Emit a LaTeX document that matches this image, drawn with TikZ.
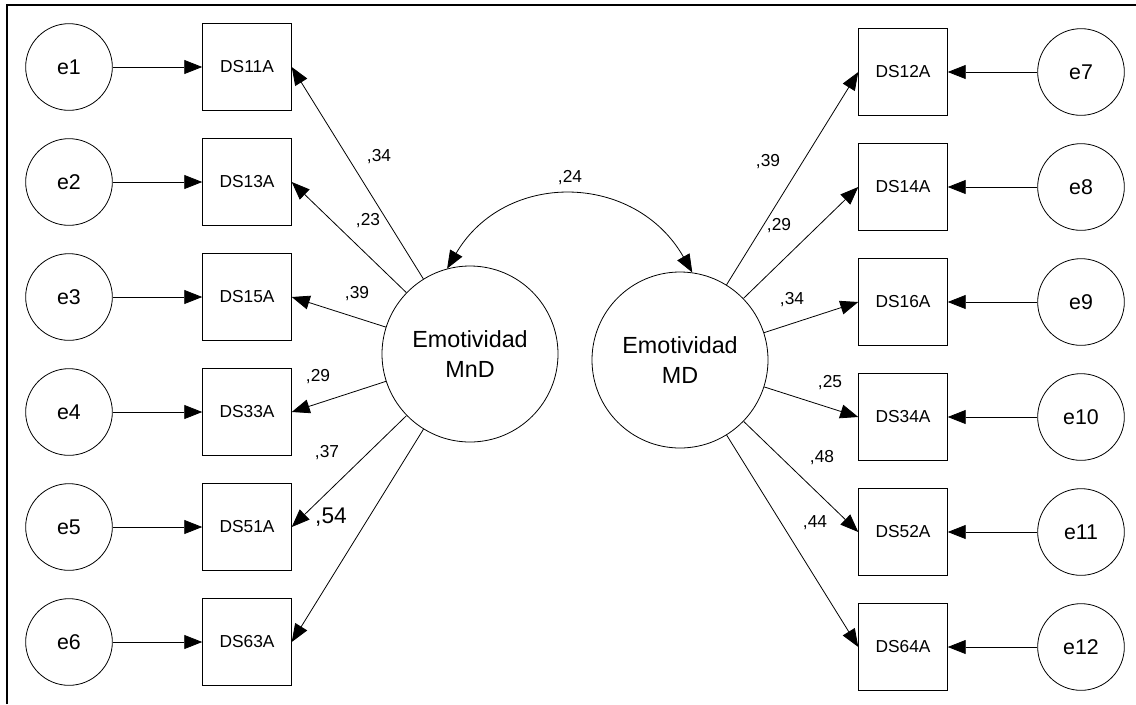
\documentclass[tikz,border=0pt]{standalone}
\usepackage{fontspec}
\setmainfont{Liberation Sans}
\usetikzlibrary{arrows.meta}
\begin{document}
\begin{tikzpicture}[x=0.75pt,y=-0.75pt,
  err/.style={circle,draw,line width=0.6pt,minimum size=65pt,inner sep=0pt,font=\fontsize{16}{18}\selectfont},
  obs/.style={rectangle,draw,line width=0.6pt,minimum width=66.5pt,minimum height=65pt,inner sep=0pt,font=\fontsize{13}{15}\selectfont},
  lat/.style={circle,draw,line width=0.6pt,minimum size=132pt,inner sep=0pt,align=center,font=\fontsize{17.5}{22.5}\selectfont},
  lbl/.style={inner sep=0pt,font=\fontsize{13}{15}\selectfont},
  conn/.style={line width=0.6pt,-{Triangle[length=13.5pt,width=10.5pt]}},
  frame/.style={line width=1.5pt}]
\useasboundingbox (0,0) rectangle (1136,704);
\coordinate (fa) at (7,704);
\coordinate (fb) at (7,5);
\coordinate (fc) at (1136,5);
\draw[frame] (fa) -- (fb) -- (fc);

% latent variables
\node[lat] (mnd) at (470,354) {Emotividad\\MnD};
\node[lat] (md) at (680,360) {Emotividad\\MD};

% left side
\foreach \i/\e/\d/\y in {1/e1/DS11A/67, 2/e2/DS13A/182, 3/e3/DS15A/297, 4/e4/DS33A/412, 5/e5/DS51A/527, 6/e6/DS63A/642}{
  \node[err] (l\i) at (69,\y) {\e};
  \node[obs] (L\i) at (247,\y) {\d};
  \draw[conn] (l\i) -- (L\i);
  \draw[conn] (mnd) -- (L\i.east);
}
% right side
\foreach \i/\e/\d/\y in {1/e7/DS12A/72, 2/e8/DS14A/187, 3/e9/DS16A/302, 4/e10/DS34A/417, 5/e11/DS52A/532, 6/e12/DS64A/647}{
  \node[err] (r\i) at (1081,\y) {\e};
  \node[obs] (R\i) at (903,\y) {\d};
  \draw[conn] (r\i) -- (R\i);
  \draw[conn] (md) -- (R\i.west);
}

% covariance
\draw[line width=0.6pt,{Triangle[length=13.5pt,width=10.5pt]}-{Triangle[length=13.5pt,width=10.5pt]}]
  (mnd.105) .. controls (505,170) and (635,172) .. (md.82);

% labels
\node[lbl] (c24) at (570,178) {,24};
\node[lbl] (a1) at (379,157) {,34};
\node[lbl] (a2) at (368,221) {,23};
\node[lbl] (a3) at (357,294) {,39};
\node[lbl] (a4) at (318,377) {,29};
\node[lbl] (a5) at (327,453) {,37};
\node[lbl,font=\fontsize{17}{19}\selectfont] (a6) at (331,517) {,54};
\node[lbl] (b1) at (768,162) {,39};
\node[lbl] (b2) at (779,226) {,29};
\node[lbl] (b3) at (792,300) {,34};
\node[lbl] (b4) at (830,383) {,25};
\node[lbl] (b5) at (822,458) {,48};
\node[lbl] (b6) at (815,523) {,44};
\end{tikzpicture}
\end{document}
